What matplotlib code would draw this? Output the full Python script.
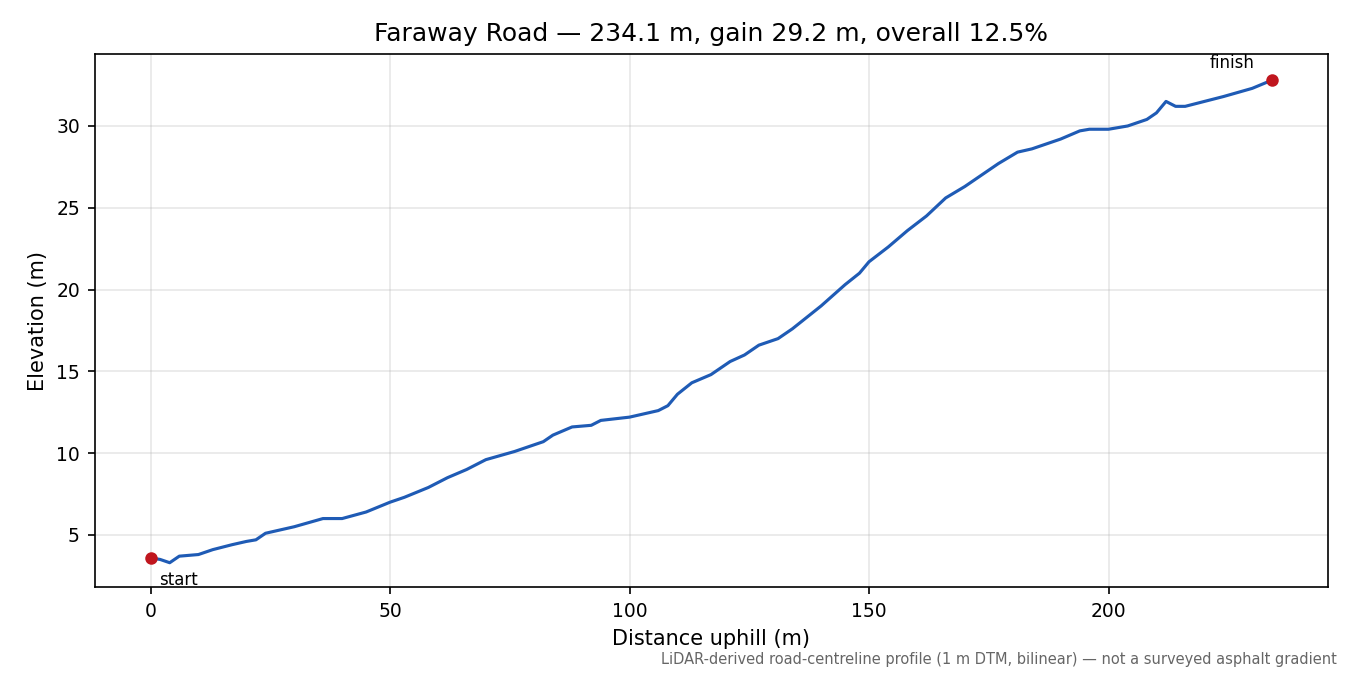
# Elevation profile of Faraway Road
import matplotlib
matplotlib.use('Agg')
import matplotlib.pyplot as plt

distance = [0, 2, 4, 6, 10, 13, 17, 20, 22, 24, 30, 36, 40, 45, 50, 53, 58, 62, 66, 70,
            76, 82, 84, 88, 92, 94, 100, 106, 108, 110, 113, 117, 121, 124, 127, 131, 134,
            137, 140, 145, 148, 150, 154, 158, 162, 166, 170, 173, 177, 181, 184, 190, 194,
            196, 200, 204, 208, 210, 212, 214, 216, 220, 224, 230, 234.1]
elevation = [3.6, 3.5, 3.3, 3.7, 3.8, 4.1, 4.4, 4.6, 4.7, 5.1, 5.5, 6.0, 6.0, 6.4, 7.0, 7.3,
             7.9, 8.5, 9.0, 9.6, 10.1, 10.7, 11.1, 11.6, 11.7, 12.0, 12.2, 12.6, 12.9, 13.6,
             14.3, 14.8, 15.6, 16.0, 16.6, 17.0, 17.6, 18.3, 19.0, 20.3, 21.0, 21.7, 22.6,
             23.6, 24.5, 25.6, 26.3, 26.9, 27.7, 28.4, 28.6, 29.2, 29.7, 29.8, 29.8, 30.0,
             30.4, 30.8, 31.5, 31.2, 31.2, 31.5, 31.8, 32.3, 32.8]

fig = plt.figure(figsize=(9, 4.5), dpi=150)
ax = fig.add_axes([0.07, 0.13, 0.914, 0.79])
ax.plot(distance, elevation, color='#1f5bb5', linewidth=1.5)
ax.plot([distance[0], distance[-1]], [elevation[0], elevation[-1]], 'o', color='#c0161e', markersize=5)
ax.annotate('start', (distance[0], elevation[0]), xytext=(4, -13), textcoords='offset points', fontsize=8)
ax.annotate('finish', (distance[-1], elevation[-1]), xytext=(-30, 6), textcoords='offset points', fontsize=8)
ax.set_xlim(-11.7, 245.9)
ax.set_ylim(1.8, 34.4)
ax.grid(True, alpha=0.3)
ax.tick_params(labelsize=9)
ax.set_xlabel('Distance uphill (m)', fontsize=10)
ax.set_ylabel('Elevation (m)', fontsize=10)
ax.set_title('Faraway Road — 234.1 m, gain 29.2 m, overall 12.5%', fontsize=12)
fig.text(0.99, 0.012, 'LiDAR-derived road-centreline profile (1 m DTM, bilinear) — not a surveyed asphalt gradient',
         ha='right', va='bottom', fontsize=7, color='#666666')
fig.savefig('out.png', dpi=150)
